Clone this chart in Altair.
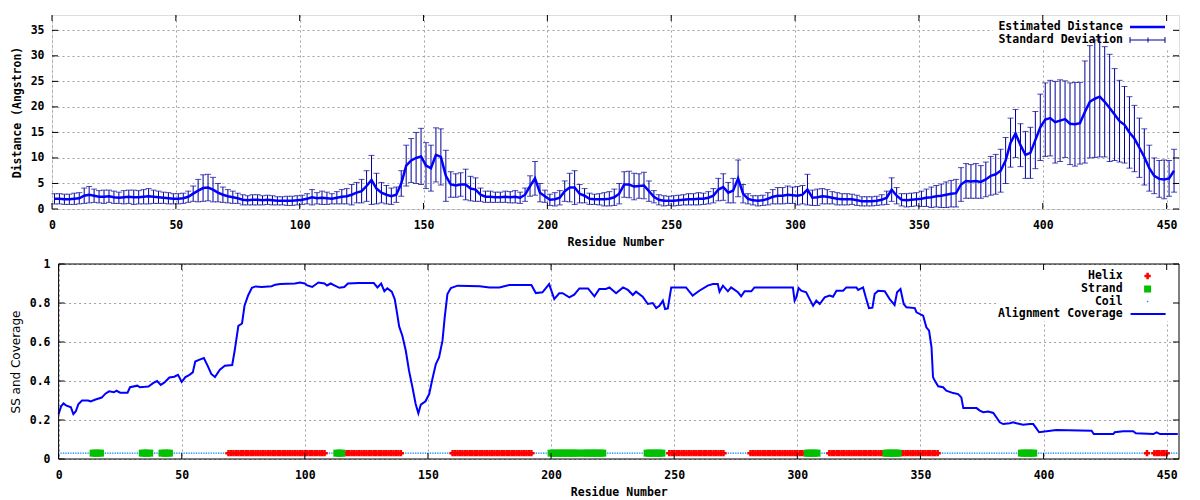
import altair as alt
import pandas as pd

# ---------------- data ----------------
residue = list(range(1, 454, 2))
distance = [
    2.0, 2.0, 1.9, 1.9, 2.0, 2.1, 2.6, 2.8, 2.6, 2.4,
    2.4, 2.5, 2.3, 2.2, 2.3, 2.4, 2.3, 2.3, 2.4, 2.5,
    2.4, 2.3, 2.2, 2.1, 2.0, 2.0, 2.1, 2.4, 3.0, 3.6,
    4.1, 4.2, 3.8, 3.2, 2.8, 2.5, 2.3, 2.1, 1.8, 1.7,
    1.8, 1.8, 1.7, 1.8, 1.7, 1.6, 1.6, 1.6, 1.6, 1.7,
    1.8, 2.0, 2.3, 2.1, 2.2, 2.1, 2.0, 2.2, 2.4, 2.5,
    2.8, 3.2, 3.5, 4.5, 5.7, 4.0, 3.2, 2.8, 2.5, 2.8,
    5.0, 8.5, 9.5, 10.0, 10.3, 8.5, 8.0, 10.6, 10.2, 6.5,
    4.8, 4.6, 4.8, 4.8, 4.0, 3.8, 2.8, 2.4, 2.4, 2.3,
    2.3, 2.4, 2.3, 2.4, 2.2, 2.8, 4.5, 6.0, 3.2, 2.5,
    1.8, 1.9, 2.2, 3.5, 4.2, 4.2, 3.0, 2.6, 2.0, 1.9,
    1.9, 1.9, 2.0, 2.3, 3.0, 4.8, 4.8, 4.4, 4.5, 4.6,
    3.5, 2.4, 1.8, 1.6, 1.6, 1.6, 1.7, 1.8, 1.9, 1.9,
    2.0, 2.0, 2.2, 2.6, 3.8, 4.3, 3.2, 3.6, 6.0, 3.0,
    2.0, 1.7, 1.6, 1.7, 2.0, 2.4, 2.6, 2.6, 2.8, 2.7,
    2.6, 2.8, 3.8, 2.2, 2.3, 2.5, 2.4, 2.2, 2.0, 1.9,
    1.9, 1.9, 1.7, 1.5, 1.5, 1.5, 1.6, 1.8, 2.2, 3.8,
    2.6, 1.8, 1.7, 1.8, 1.9, 2.0, 2.2, 2.3, 2.5, 2.6,
    2.8, 3.0, 3.1, 4.8, 5.5, 5.4, 5.5, 5.3, 5.8, 6.5,
    6.8, 7.5, 9.5, 13.0, 14.8, 12.5, 10.6, 11.0, 13.5, 16.0,
    17.5, 17.8, 17.0, 17.3, 17.6, 16.7, 16.6, 16.8, 19.0, 21.0,
    21.6, 22.0, 21.0, 19.8, 18.5, 17.2, 16.5, 15.0, 13.8, 12.0,
    10.2, 8.0, 6.5, 5.9, 5.8, 6.0, 7.5,
]
std_dev = [
    1.0, 1.0, 1.0, 1.0, 1.1, 1.1, 1.5, 1.6, 1.3, 1.2,
    1.3, 1.2, 1.2, 1.1, 1.3, 1.3, 1.4, 1.3, 1.4, 1.5,
    1.3, 1.2, 1.1, 1.1, 1.0, 1.0, 1.0, 1.1, 1.5, 2.2,
    2.6, 2.6, 2.4, 1.8, 1.5, 1.3, 1.2, 1.0, 1.0, 0.9,
    1.0, 1.0, 0.9, 0.9, 0.9, 0.8, 0.8, 0.9, 0.9, 0.9,
    0.9, 1.0, 1.5, 1.1, 1.3, 1.2, 1.0, 1.2, 1.4, 1.5,
    2.0, 2.0, 2.3, 3.0, 4.8, 3.0, 2.0, 1.8, 1.6, 1.5,
    2.5, 4.0, 4.3, 5.0, 5.5, 4.5, 4.5, 5.3, 5.5, 5.0,
    2.5, 2.3, 2.3, 3.0, 2.4, 2.3, 1.3, 1.1, 1.1, 1.0,
    1.0, 1.1, 1.1, 1.2, 1.1, 1.3, 2.0, 3.3, 1.8, 1.2,
    1.1, 1.3, 1.4, 2.0, 2.8, 3.3, 1.8, 1.4, 1.1, 1.0,
    1.1, 1.3, 1.4, 1.6, 2.0, 2.5, 2.6, 2.6, 2.4, 2.6,
    2.0, 1.2, 1.0, 1.0, 0.9, 1.0, 1.0, 1.0, 1.1, 1.1,
    1.2, 1.1, 1.2, 1.4, 2.2, 2.6, 2.0, 2.4, 3.6, 1.8,
    1.0, 0.9, 1.0, 1.0, 1.2, 1.4, 1.6, 1.6, 1.7, 1.6,
    1.8, 1.8, 3.0, 1.5, 1.6, 1.5, 1.4, 1.2, 1.2, 1.1,
    1.1, 1.0, 1.0, 0.9, 0.9, 0.9, 0.9, 1.0, 1.3, 2.3,
    1.6, 1.2, 1.3, 1.3, 1.3, 1.5, 1.7, 2.0, 2.1, 2.3,
    2.5, 2.6, 2.7, 3.3, 3.4, 3.3, 3.4, 3.2, 3.4, 3.8,
    3.9, 4.2, 4.5, 4.8, 4.7, 4.2, 4.6, 5.0, 5.6, 6.5,
    7.2, 7.4, 8.0, 8.0, 7.5, 8.0, 8.2, 8.0, 10.0, 11.0,
    11.5, 11.8, 10.8, 10.5, 9.0, 8.0, 7.5, 7.0, 6.5, 5.8,
    5.5, 4.5, 3.5, 3.6, 3.8, 3.5, 4.2,
]

cov_res = [
    0, 1, 2, 3, 5, 6, 7, 8, 9.5, 12, 13, 15, 17.5, 19, 20.5, 22.5, 23.5, 25, 28, 29,
    32, 33, 35, 36.5, 38.5, 40, 41.5, 43, 45, 47, 48.5, 50, 51.5, 53, 54.5, 55.5, 57, 59, 60.5, 62,
    63.5, 65.5, 67.5, 70.5, 71.5, 73, 74.5, 75.5, 77, 78.5, 80, 82.5, 86.5, 88, 90, 96, 98, 100, 101, 103,
    105.5, 108, 109, 110.5, 112, 114, 116, 117.5, 122, 128, 129.5, 131, 132.3, 133.5, 135.3, 136.5, 137.3, 138.3, 139.6, 141,
    142.3, 143.7, 145, 146.1, 147.1, 149, 150.5, 151.8, 153.2, 154.5, 155.9, 156.8, 157.9, 159.3, 162, 171, 175, 179, 183, 192,
    193.8, 196.5, 199.2, 201.3, 203.3, 204.7, 207.4, 209.4, 211.5, 215, 217.6, 219.6, 222.3, 223.7, 226.4, 229.2, 231.2, 233.2, 234.5, 237.2,
    239.3, 241.3, 242.7, 244, 245.4, 246.3, 247.4, 248.8, 254.8, 257.5, 260.2, 263.6, 265.7, 267.7, 268.4, 269.8, 271.8, 273.1, 275.9, 277.2,
    278.6, 281.3, 282.6, 298.2, 298.9, 299.6, 300.5, 301.6, 303.6, 305, 306.4, 307.7, 309.1, 311.1, 313.1, 314.5, 315.9, 318.6, 319.9, 324,
    324.7, 326.7, 327.8, 329.1, 330.5, 331.4, 332.8, 335.5, 337.5, 339.5, 340.5, 341.9, 343.2, 344.3, 347.7, 348.4, 351.1, 352.4, 353.5, 354.5,
    355.1, 355.8, 357.2, 359.2, 360.5, 363.3, 365.3, 366.6, 367.4, 372.8, 374.1, 375.5, 377.5, 379.6, 380.9, 382.2, 383.6, 386.3, 387.6, 389,
    391.7, 394.4, 395.8, 396.8, 398.2, 401.2, 405.2, 419.5, 420.4, 428.3, 428.9, 432.3, 436.4, 437.5, 444.6, 445.9, 447.3, 454.5,
]
coverage = [
    0.23, 0.27, 0.285, 0.275, 0.265, 0.23, 0.245, 0.28, 0.3, 0.3, 0.295, 0.305, 0.315, 0.335, 0.347, 0.342, 0.35, 0.34, 0.34, 0.368,
    0.376, 0.368, 0.37, 0.372, 0.39, 0.4, 0.38, 0.393, 0.418, 0.422, 0.432, 0.395, 0.42, 0.43, 0.444, 0.5, 0.508, 0.518, 0.479, 0.436,
    0.42, 0.458, 0.478, 0.482, 0.555, 0.683, 0.695, 0.786, 0.84, 0.878, 0.885, 0.882, 0.886, 0.894, 0.898, 0.9, 0.905, 0.9, 0.89, 0.882,
    0.905, 0.9, 0.89, 0.9, 0.89, 0.878, 0.882, 0.9, 0.902, 0.902, 0.88, 0.9, 0.86, 0.875, 0.858, 0.82, 0.76, 0.68, 0.632, 0.555,
    0.453, 0.368, 0.282, 0.234, 0.279, 0.296, 0.333, 0.41, 0.487, 0.521, 0.607, 0.726, 0.846, 0.877, 0.889, 0.886, 0.88, 0.88, 0.892, 0.892,
    0.851, 0.855, 0.897, 0.82, 0.85, 0.85, 0.829, 0.843, 0.875, 0.875, 0.834, 0.872, 0.872, 0.88, 0.85, 0.88, 0.867, 0.841, 0.858, 0.832,
    0.795, 0.8, 0.774, 0.786, 0.812, 0.769, 0.772, 0.88, 0.88, 0.838, 0.863, 0.889, 0.897, 0.897, 0.858, 0.889, 0.86, 0.88, 0.855, 0.834,
    0.86, 0.86, 0.88, 0.88, 0.812, 0.829, 0.877, 0.863, 0.855, 0.82, 0.786, 0.812, 0.795, 0.829, 0.838, 0.832, 0.863, 0.863, 0.88, 0.88,
    0.867, 0.88, 0.829, 0.774, 0.776, 0.846, 0.863, 0.86, 0.82, 0.79, 0.855, 0.872, 0.795, 0.778, 0.774, 0.752, 0.735, 0.675, 0.658, 0.573,
    0.42, 0.402, 0.373, 0.368, 0.35, 0.338, 0.333, 0.316, 0.261, 0.261, 0.248, 0.24, 0.243, 0.236, 0.213, 0.188, 0.179, 0.183, 0.188, 0.183,
    0.176, 0.179, 0.179, 0.162, 0.137, 0.142, 0.149, 0.145, 0.128, 0.128, 0.137, 0.142, 0.142, 0.132, 0.128, 0.137, 0.128, 0.128,
]

n_residues = 454
helix_segments = [(69, 108), (116, 139), (160, 192), (248, 270), (281, 303),
                  (313, 335), (342, 357), (442, 442), (445, 450)]
strand_segments = [(14, 17), (34, 37), (42, 45), (113, 115), (200, 211),
                   (213, 221), (239, 245), (304, 308), (336, 341), (391, 396)]
ss_level = 0.03

x_ticks = [0, 50, 100, 150, 200, 250, 300, 350, 400, 450]
y_ticks_top = [0, 5, 10, 15, 20, 25, 30, 35]
y_ticks_bot = [0, 0.2, 0.4, 0.6, 0.8, 1]

# ---------------- frames ----------------
dist_df = pd.DataFrame({"res": residue, "dist": distance, "sd": std_dev})
cov_df = pd.DataFrame({"res": cov_res, "cov": coverage})
ss = ["C"] * (n_residues + 1)
for a, b in helix_segments:
    for r in range(a, b + 1):
        ss[r] = "H"
for a, b in strand_segments:
    for r in range(a, b + 1):
        ss[r] = "E"
ss_df = pd.DataFrame({"res": list(range(1, n_residues + 1)), "ss": ss[1:]})
ss_df["lvl"] = ss_level

one = pd.DataFrame({"k": [0]})
xt_df = pd.DataFrame({"t": x_ticks})
yt_top_df = pd.DataFrame({"t": y_ticks_top})
yt_bot_df = pd.DataFrame({"t": y_ticks_bot})

# ---------------- style ----------------
MONO = "DejaVu Sans Mono"
FS = 11.5
GRID = "#a0a0a0"
BLUE = "#0000ff"
NAVY = "#00009a"

W, H1, H2 = 1127, 194, 195
OFF2 = 6.6          # bottom frame starts this far right of the top frame


def x_axis():
    return alt.Axis(values=x_ticks, title="Residue Number", grid=True, gridColor=GRID,
                    gridDash=[2, 3], ticks=False, tickSize=0, domain=False,
                    labelFont=MONO, labelFontWeight="bold", labelFontSize=FS,
                    labelPadding=10, labelFlush=False, labelColor="black",
                    titleFont=MONO, titleFontWeight="bold", titleFontSize=FS,
                    titlePadding=6, titleColor="black")


XAX = x_axis()
Y1AX = alt.Axis(values=y_ticks_top, title="Distance (Angstron)", grid=True, gridColor=GRID,
                gridDash=[2, 3], ticks=False, tickSize=0, domain=False,
                labelFont=MONO, labelFontWeight="bold", labelFontSize=FS,
                labelPadding=8, labelColor="black",
                titleFont=MONO, titleFontWeight="bold", titleFontSize=FS,
                titlePadding=8, titleColor="black")
Y2AX = alt.Axis(values=y_ticks_bot, format="~g", title="SS and Coverage", grid=True,
                gridColor=GRID, gridDash=[2, 3], ticks=False, tickSize=0, domain=False,
                labelFont=MONO, labelFontWeight="bold", labelFontSize=FS,
                labelPadding=2, labelColor="black",
                titleFont="DejaVu Sans", titleFontWeight="normal", titleFontSize=12,
                titlePadding=7, titleColor="black")

xs1 = alt.Scale(domain=[0, 455], nice=False, zero=False)
xs2 = alt.Scale(domain=[0, 455], nice=False, zero=False, range=[OFF2, W])
ys1 = alt.Scale(domain=[0, 38], nice=False, zero=False)
ys2 = alt.Scale(domain=[0, 1], nice=False, zero=False)


def X1(f):
    return alt.X(f, scale=xs1, axis=XAX)


def X2(f):
    return alt.X(f, scale=xs2, axis=XAX)


def Y1(f):
    return alt.Y(f, scale=ys1, axis=Y1AX)


def Y2(f):
    return alt.Y(f, scale=ys2, axis=Y2AX)


def inward_ticks(x0, w, h, ydf, Xenc, Yenc):
    b = alt.Chart(xt_df).mark_rule(color="black", strokeWidth=1).encode(
        x=Xenc("t:Q"), y=alt.value(h), y2=alt.value(h - 6))
    t = alt.Chart(xt_df).mark_rule(color="black", strokeWidth=1).encode(
        x=Xenc("t:Q"), y=alt.value(0), y2=alt.value(6))
    l = alt.Chart(ydf).mark_rule(color="black", strokeWidth=1).encode(
        y=Yenc("t:Q"), x=alt.value(x0), x2=alt.value(x0 + 6))
    r = alt.Chart(ydf).mark_rule(color="black", strokeWidth=1).encode(
        y=Yenc("t:Q"), x=alt.value(w - 6), x2=alt.value(w))
    return [b, t, l, r]


def legend_text(txt, x, y):
    return alt.Chart(one).mark_text(text=txt, align="right", baseline="middle",
                                    font=MONO, fontWeight="bold", fontSize=FS,
                                    color="black").encode(x=alt.value(x), y=alt.value(y))


# ---------------- top panel ----------------
base1 = alt.Chart(dist_df).transform_calculate(
    lo="max(datum.dist - datum.sd, 0)", hi="datum.dist + datum.sd")

key1_bg = alt.Chart(one).mark_rect(color="white").encode(
    x=alt.value(941), x2=alt.value(W - 1), y=alt.value(1), y2=alt.value(33))

bars = base1.mark_rule(color=NAVY, strokeWidth=1).encode(
    x=X1("res:Q"), y=Y1("lo:Q"), y2="hi:Q")
cap_lo = base1.mark_tick(orient="horizontal", size=6, thickness=1, color=NAVY).encode(
    x=X1("res:Q"), y=Y1("lo:Q"))
cap_hi = base1.mark_tick(orient="horizontal", size=6, thickness=1, color=NAVY).encode(
    x=X1("res:Q"), y=Y1("hi:Q"))
mean_line = base1.mark_line(color=BLUE, strokeWidth=2.5).encode(
    x=X1("res:Q"), y=Y1("dist:Q"))

key1 = [
    legend_text("Estimated Distance", 1071, 12),
    alt.Chart(one).mark_rule(color=BLUE, strokeWidth=2.5).encode(
        x=alt.value(1078), x2=alt.value(1113), y=alt.value(12)),
    legend_text("Standard Deviation", 1071, 25),
    alt.Chart(one).mark_rule(color=NAVY, strokeWidth=1).encode(
        x=alt.value(1078), x2=alt.value(1113), y=alt.value(25)),
    alt.Chart(one).mark_rule(color=NAVY, strokeWidth=1).encode(
        x=alt.value(1078), y=alt.value(22), y2=alt.value(28)),
    alt.Chart(one).mark_rule(color=NAVY, strokeWidth=1).encode(
        x=alt.value(1113), y=alt.value(22), y2=alt.value(28)),
    alt.Chart(one).mark_rule(color=NAVY, strokeWidth=1).encode(
        x=alt.value(1096), y=alt.value(22.5), y2=alt.value(27.5)),
]

top = alt.layer(key1_bg, bars, cap_lo, cap_hi, mean_line,
                *inward_ticks(0, W, H1, yt_top_df, X1, Y1), *key1).properties(
    width=W, height=H1)

# ---------------- bottom panel ----------------
gutter = alt.Chart(one).mark_rect(color="white").encode(
    x=alt.value(-1), x2=alt.value(OFF2), y=alt.value(-1), y2=alt.value(H2 + 1))
key2_bg = alt.Chart(one).mark_rect(color="white").encode(
    x=alt.value(OFF2 + 940), x2=alt.value(W - 1), y=alt.value(1), y2=alt.value(57))
frame2 = alt.Chart(one).mark_rect(filled=False, stroke="black", strokeWidth=1).encode(
    x=alt.value(OFF2), x2=alt.value(W), y=alt.value(0), y2=alt.value(H2))

cov_line = alt.Chart(cov_df).mark_line(color=BLUE, strokeWidth=2).encode(
    x=X2("res:Q"), y=Y2("cov:Q"))

coil = alt.Chart(ss_df).transform_filter("datum.ss == 'C'").mark_square(
    size=2, color="#1a8cff", opacity=1).encode(x=X2("res:Q"), y=Y2("lvl:Q"))
helix = alt.Chart(ss_df).transform_filter("datum.ss == 'H'").mark_point(
    shape="cross", filled=True, size=40, color="#ff0000", opacity=1).encode(
    x=X2("res:Q"), y=Y2("lvl:Q"))
strand = alt.Chart(ss_df).transform_filter("datum.ss == 'E'").mark_square(
    size=49, color="#00c000", opacity=1).encode(x=X2("res:Q"), y=Y2("lvl:Q"))

kx = OFF2 + 1064
key2 = [
    legend_text("Helix", kx, 12),
    alt.Chart(one).mark_point(shape="cross", filled=True, size=40, color="#ff0000",
                              opacity=1).encode(x=alt.value(kx + 25), y=alt.value(12)),
    legend_text("Strand", kx, 25),
    alt.Chart(one).mark_square(size=49, color="#00c000", opacity=1).encode(
        x=alt.value(kx + 25), y=alt.value(25)),
    legend_text("Coil", kx, 37.5),
    alt.Chart(one).mark_square(size=2, color="#1a8cff", opacity=1).encode(
        x=alt.value(kx + 25), y=alt.value(37.5)),
    legend_text("Alignment Coverage", kx, 50),
    alt.Chart(one).mark_rule(color=BLUE, strokeWidth=2).encode(
        x=alt.value(kx + 8), x2=alt.value(kx + 43), y=alt.value(50)),
]

bottom = alt.layer(gutter, key2_bg, cov_line, coil, helix, strand,
                   *inward_ticks(OFF2, W, H2, yt_bot_df, X2, Y2), frame2, *key2).properties(
    width=W, height=H2, view=alt.ViewConfig(stroke="transparent"))

chart = alt.concat(top, bottom, columns=1, spacing=8).properties(
    padding={"left": 0, "top": 6, "right": 0, "bottom": 0}
).configure_view(stroke="black", strokeWidth=1).configure(background="white")

chart.save("out.html", embed_options={"renderer": "svg", "actions": False})
